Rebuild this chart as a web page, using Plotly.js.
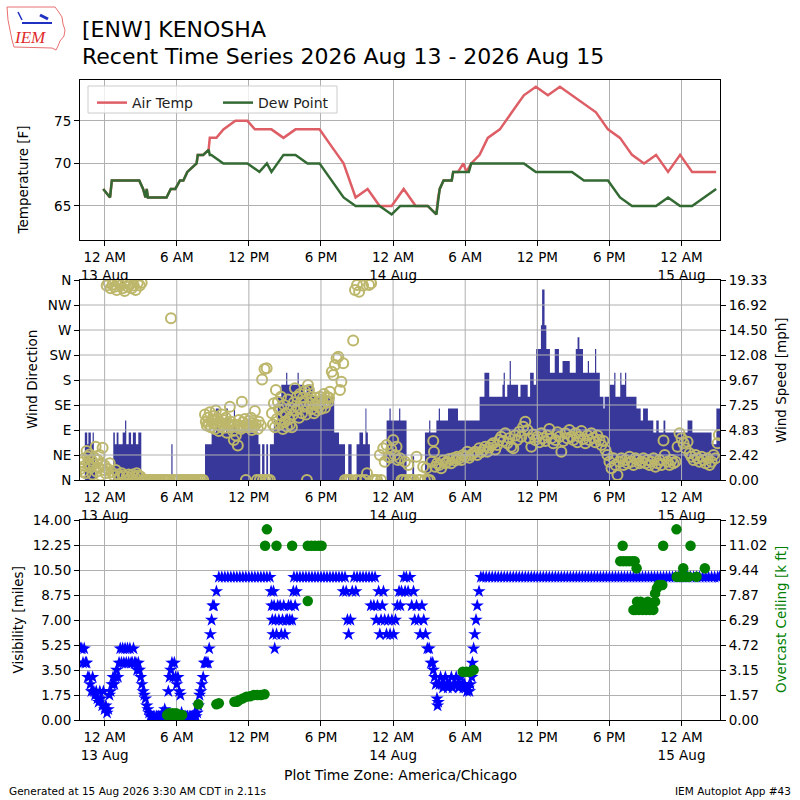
<!DOCTYPE html>
<html><head><meta charset="utf-8">
<script src="https://cdn.plot.ly/plotly-3.0.1.min.js"></script>
<style>html,body{margin:0;padding:0;background:#fff}</style>
</head><body>
<div id="chart" style="width:800px;height:800px"></div>
<script>
// ---------- DATA (time = hours since 2026-08-13 00:00 America/Chicago) ----------
const tickHours = [0, 6, 12, 18, 24, 30, 36, 42, 48];
const tickLabels = ['12 AM<br>13 Aug', '6 AM', '12 PM', '6 PM', '12 AM<br>14 Aug', '6 AM', '12 PM', '6 PM', '12 AM<br>15 Aug'];
const timeRangeHours = [-2.05, 51.2];

const tempTicks = [65, 70, 75];
const tempRange = [61, 79.8];

const airTempObs = [
[-0.12,67],[0.45,66],[0.6,68],[0.88,68],[1.88,68],[2.88,68],[3.2,67],[3.4,66],[3.5,67],[3.6,66],[3.88,66],[4.88,66],[5.15,66],[5.5,67],[5.88,67],[6.27,68],[6.55,68],[6.88,69],[7.65,70],[7.75,71],[7.88,71],[8.2,71],[8.65,71.6],[8.75,73],[9.3,73],[9.88,74],[10.88,75],[11.88,75],[12.5,74],[12.88,74],[13.88,74],[14.88,73],[15.88,74],[16.88,74],[17.88,74],[18.88,72],[19.88,70],[20.88,66],[21.88,67],[22.88,65],[23.88,65],[24.88,67],[25.88,65],[26.88,65],[27.6,64],[27.75,66],[27.88,67],[28.2,68],[28.88,68],[29.0,69],[29.4,69],[29.85,70],[30.1,69],[30.5,70],[31.2,71],[31.88,73],[32.88,74],[33.88,76],[34.88,78],[35.88,79],[36.88,78],[37.88,79],[38.88,78],[39.88,77],[40.88,76],[41.88,74],[42.88,73],[43.88,71],[44.88,70],[45.88,71],[46.88,69],[47.88,71],[48.88,69],[49.88,69],[50.88,69]
];
const dewPointObs = [
[-0.12,67],[0.45,66],[0.6,68],[0.88,68],[1.88,68],[2.88,68],[3.2,67],[3.4,66],[3.5,67],[3.6,66],[3.88,66],[4.88,66],[5.15,66],[5.5,67],[5.88,67],[6.27,68],[6.55,68],[6.88,69],[7.65,70],[7.75,71],[7.88,71],[8.2,71],[8.65,71.6],[8.75,71],[8.88,71],[9.88,70],[10.88,70],[11.88,70],[12.88,69],[13.5,70],[13.88,69],[14.88,71],[15.88,71],[16.88,70],[17.88,70],[18.88,68],[19.88,66],[20.88,65],[21.88,65],[22.88,65],[23.88,64],[24.6,65],[24.88,65],[25.88,65],[26.88,65],[27.6,64],[27.75,66],[27.88,67],[28.2,68],[28.88,68],[29.0,69],[29.88,69],[30.3,69],[30.5,70],[30.88,70],[31.88,70],[32.88,70],[33.88,70],[34.88,70],[35.88,69],[36.88,69],[37.88,69],[38.88,69],[39.88,68],[40.88,68],[41.88,68],[42.88,66],[43.88,65],[44.88,65],[45.88,65],[46.88,66],[47.88,65],[48.88,65],[49.88,66],[50.88,67]
];

const dirTickVals = [0, 45, 90, 135, 180, 225, 270, 315, 360];
const dirTickLabels = ['N', 'NE', 'E', 'SE', 'S', 'SW', 'W', 'NW', 'N'];
const speedMax = 19.33;
const speedTickLabels = ['0.00', '2.42', '4.83', '7.25', '9.67', '12.08', '14.50', '16.92', '19.33'];

// wind speed [mph]: value holds from this time until the next one
const windSpeedObs = [
[-2.0,0],[-1.65,4.6],[-1.45,3.45],[-1.35,4.6],[-1.15,3.45],[-1.0,4.6],[-0.9,2.3],[-0.8,0],[0.72,4.6],[0.85,3.45],[1.0,4.6],[1.15,3.45],[1.5,4.6],[1.7,5.75],[1.8,3.45],[2.0,4.6],[2.2,3.45],[2.35,4.6],[2.6,3.45],[2.8,4.6],[3.05,0],[5.55,3.45],[5.65,0],[8.35,3.45],[8.9,4.6],[9.25,6.9],[9.5,4.6],[10.1,6.9],[10.25,4.6],[10.75,6.9],[10.85,4.6],[12.8,3.45],[12.95,0],[13.1,3.45],[13.3,0],[13.45,3.45],[13.6,0],[13.75,3.45],[14.08,5.75],[14.4,8.05],[14.7,9.2],[15.1,10.36],[15.2,9.2],[16.05,10.36],[16.15,9.2],[16.6,8.05],[16.8,9.2],[17.3,8.05],[17.6,6.9],[17.75,8.05],[18.4,6.9],[18.6,8.05],[19.1,4.6],[19.5,3.45],[20.0,0],[20.27,3.45],[20.55,0],[20.96,3.45],[21.2,4.6],[21.5,3.45],[21.7,6.9],[21.78,4.6],[21.9,3.45],[22.07,0],[23.46,5.75],[23.7,6.9],[23.8,5.75],[24.5,6.9],[24.6,5.75],[25.12,0],[25.6,2.3],[25.75,0],[26.65,4.6],[27.0,5.75],[27.1,4.6],[27.6,5.75],[27.8,6.9],[27.9,5.75],[28.57,6.9],[29.4,5.75],[31.2,8.05],[31.6,10.36],[32.0,8.05],[33.1,9.2],[33.2,10.36],[33.3,8.05],[33.5,9.2],[33.7,11.5],[33.8,9.2],[34.4,8.05],[34.6,9.2],[35.2,8.05],[35.4,10.36],[35.7,9.2],[35.9,12.66],[36.3,14.96],[36.4,18.4],[36.6,14.96],[36.75,12.66],[37.05,10.36],[37.45,12.66],[37.8,10.36],[38.1,11.5],[38.7,10.36],[39.2,12.66],[39.35,13.8],[39.5,12.66],[39.8,10.36],[40.2,11.5],[40.3,10.36],[40.8,12.66],[40.9,10.36],[41.2,8.05],[41.5,6.9],[41.6,8.05],[42.0,9.2],[42.4,10.36],[42.5,8.05],[42.9,10.36],[43.0,9.2],[43.3,10.36],[43.4,8.05],[44.25,6.9],[44.6,5.75],[44.8,6.9],[45.2,5.75],[45.65,4.6],[45.9,5.75],[46.1,4.6],[46.5,5.75],[46.65,4.6],[48.5,5.75],[48.9,4.6],[50.5,3.45],[50.9,6.9],[51.2,6.9]
];

// wind direction [deg]
const windDirObs = [
[-2.0,20],[-1.92,32],[-1.83,15],[-1.75,38],[-1.67,25],[-1.58,12],[-1.5,52],[-1.42,42],[-1.33,30],[-1.25,46],[-1.17,22],[-1.08,35],[-1.0,10],[-0.92,28],[-0.83,40],[-0.75,60],[-0.67,15],[-0.58,36],[-0.5,22],[-0.42,45],[-0.33,8],[-0.25,30],[-0.17,58],[-0.08,18],[0.0,26],[0.08,12],[0.17,350],[0.25,20],[0.33,355],[0.42,30],[0.5,345],[0.58,14],[0.67,352],[0.75,8],[0.83,348],[0.92,18],[1.0,342],[1.08,10],[1.17,356],[1.25,6],[1.33,350],[1.42,12],[1.5,345],[1.58,8],[1.67,340],[1.75,354],[1.83,6],[1.92,348],[2.0,10],[2.08,352],[2.17,5],[2.25,345],[2.33,10],[2.42,350],[2.5,6],[2.58,342],[2.67,12],[2.75,355],[2.83,8],[2.92,350],[3.0,6],[3.08,355],
[3.2,0],[3.37,0],[3.53,0],[3.7,0],[3.87,0],[4.03,0],[4.2,0],[4.37,0],[4.53,0],[4.7,0],[4.87,0],[5.03,0],[5.2,0],[5.37,0],[5.52,291],[5.7,0],[5.87,0],[6.03,0],[6.2,0],[6.37,0],[6.53,0],[6.7,0],[6.87,0],[7.03,0],[7.2,0],[7.37,0],[7.53,0],[7.7,0],[7.87,0],[8.03,0],[8.2,0],
[8.35,118],[8.42,105],[8.5,98],[8.58,112],[8.67,100],[8.75,122],[8.83,95],[8.92,108],[9.0,102],[9.08,115],[9.17,92],[9.25,125],[9.33,100],[9.42,110],[9.5,88],[9.58,104],[9.67,96],[9.75,118],[9.83,100],[9.92,108],[10.0,94],[10.08,112],[10.17,85],[10.25,102],[10.33,98],[10.42,132],[10.5,105],[10.58,95],[10.67,88],[10.75,72],[10.83,100],[10.92,80],[11.0,96],[11.08,62],[11.17,108],[11.25,98],[11.33,92],[11.42,141],[11.5,104],[11.58,96],[11.67,110],[11.75,0],[11.83,100],[11.92,95],[12.0,106],[12.08,98],[12.17,112],[12.25,90],[12.33,102],[12.42,96],[12.5,124],[12.58,100],[12.67,0],[12.75,92],[12.83,105],[12.92,0],[13.0,98],[13.1,181],[13.17,0],[13.3,200],[13.38,0],[13.48,201],[13.58,0],[13.75,0],
[13.92,120],[14.0,100],[14.08,138],[14.17,95],[14.25,162],[14.33,110],[14.42,141],[14.5,128],[14.58,100],[14.67,150],[14.75,115],[14.83,92],[14.92,135],[15.0,105],[15.08,120],[15.17,96],[15.25,145],[15.33,110],[15.42,100],[15.5,130],[15.58,95],[15.67,118],[15.75,140],[15.83,165],[15.92,125],[16.0,150],[16.08,130],[16.17,112],[16.25,155],[16.33,140],[16.42,120],[16.5,148],[16.58,132],[16.67,160],[16.75,118],[16.83,0],[16.92,171],[17.0,162],[17.08,138],[17.17,150],[17.25,128],[17.33,142],[17.42,120],[17.5,135],[17.58,148],[17.67,125],[17.75,140],[17.83,132],[17.92,150],[18.0,128],[18.08,145],[18.17,138],[18.25,155],[18.33,130],[18.42,142],[18.5,150],[18.58,140],[18.67,148],[18.74,159],[18.9,195],[19.02,189],[19.16,207],[19.3,219],[19.44,222],[19.58,162],[19.7,177],[19.85,210],[20.0,0],[20.17,0],[20.33,0],[20.5,0],[20.68,251],[20.83,342],[20.92,0],[21.0,351],[21.17,339],[21.33,0],[21.5,350],[21.67,0],[21.83,12],[22.0,351],[22.17,354],[22.33,0],[22.5,0],[22.67,0],
[22.9,45],[23.0,0],[23.18,57],[23.3,33],[23.46,63],[23.6,42],[23.74,40],[23.85,55],[24.01,72],[24.15,45],[24.29,60],[24.4,36],[24.57,39],[24.7,0],[24.85,0],[24.98,33],[25.1,0],[25.26,27],[25.4,0],[25.55,0],[25.7,0],[25.95,42],[26.1,0],[26.25,0],[26.5,24],[26.65,0],[26.78,21],[26.9,0],[27.05,0],[27.2,33],[27.34,70],[27.4,51],
[27.5,24],[27.67,30],[27.83,27],[28.0,21],[28.17,35],[28.33,30],[28.5,33],[28.67,38],[28.83,30],[29.0,39],[29.17,35],[29.33,42],[29.5,39],[29.67,36],[29.83,45],[30.0,42],[30.17,51],[30.33,40],[30.5,45],[30.67,48],[30.83,51],[31.0,45],[31.17,57],[31.33,50],[31.5,54],[31.67,60],[31.83,51],[32.0,58],[32.17,63],[32.33,66],[32.5,55],[32.67,63],[32.83,72],
[33.0,78],[33.17,70],[33.33,84],[33.5,66],[33.67,75],[33.83,60],[34.0,57],[34.17,80],[34.33,72],[34.5,87],[34.67,78],[34.83,96],[35.0,105],[35.17,90],[35.33,75],[35.5,60],[35.67,82],[35.83,72],[36.0,78],[36.17,68],[36.33,84],[36.5,75],[36.67,70],[36.83,80],[37.0,92],[37.17,75],[37.33,66],[37.5,72],[37.67,86],[37.83,78],[38.0,51],[38.17,70],[38.33,84],[38.5,75],[38.67,90],[38.83,78],[39.0,72],[39.17,84],[39.33,68],[39.5,78],[39.67,88],[39.83,74],[40.0,66],[40.17,80],[40.33,72],[40.5,84],[40.67,76],[40.83,68],[41.0,80],[41.17,72],[41.33,63],[41.5,70],[41.67,54],
[41.83,45],[42.0,33],[42.17,21],[42.33,39],[42.5,27],[42.67,9],[42.83,33],[43.0,39],[43.17,27],[43.33,36],[43.5,30],[43.67,42],[43.83,33],[44.0,27],[44.17,39],[44.33,36],[44.5,30],[44.67,33],[44.83,39],[45.0,30],[45.17,36],[45.33,27],[45.5,33],[45.67,39],[45.83,24],[46.0,30],[46.17,36],[46.33,27],[46.5,71],[46.6,45],
[46.83,33],[47.0,27],[47.17,36],[47.33,30],[47.5,33],[47.67,60],[47.83,84],[48.0,75],[48.17,66],[48.33,57],[48.5,69],[48.67,48],[48.83,42],[49.0,36],[49.17,45],[49.33,39],[49.5,33],[49.67,42],[49.83,36],[50.0,30],[50.17,39],[50.33,27],[50.5,33],[50.67,45],[50.83,39],[51.0,66],[51.1,81]
];

const visMax = 14;
const visTickLabels = ['0.00', '1.75', '3.50', '5.25', '7.00', '8.75', '10.50', '12.25', '14.00'];
const ceilMax = 12.59;
const ceilTickLabels = ['0.00', '1.57', '3.15', '4.72', '6.29', '7.87', '9.44', '11.02', '12.59'];

// visibility [miles]
const visibilityObs = [
[-2.0,5],[-1.9,5],[-1.8,4],[-1.7,5],[-1.6,4],[-1.5,4],[-1.4,3],[-1.3,3],[-1.2,2.5],[-1.1,2],[-1.0,3],[-0.9,2],[-0.8,1.75],[-0.7,2],[-0.6,1.5],[-0.5,1.25],[-0.4,2],[-0.3,1.5],[-0.2,1],[-0.1,2],[0.0,0.75],[0.1,1],[0.2,0.5],[0.3,0.75],[0.4,1.75],[0.5,2],[0.6,2.5],[0.7,3],[0.8,2.5],[0.9,3],[1.0,3.5],[1.1,3],[1.2,4],[1.3,5],[1.4,4],[1.5,5],[1.6,4],[1.7,5],[1.8,4],[1.9,5],[2.0,4],[2.1,5],[2.2,4],[2.3,4],[2.4,5],[2.5,4],[2.6,4],[2.7,3.5],[2.8,4],[2.9,3.5],[3.0,3],[3.1,2.5],[3.2,2],[3.3,1.75],[3.4,1.5],[3.5,1],[3.6,0.75],[3.7,0.5],[3.8,0.25],[3.9,0.25],[4.0,0.12],[4.1,0.25],[4.2,0.12],[4.3,0.25],[4.4,0.12],[4.5,0.25],[4.6,0.12],[4.7,0.25],[4.8,0.5],[4.9,0.25],[5.0,0.75],[5.1,0.5],[5.2,0.25],[5.3,2],[5.4,3],[5.5,3.5],[5.6,4],[5.7,3],[5.8,4],[5.9,3],[6.0,2.5],[6.1,3],[6.2,2],[6.3,1.75],[6.4,0.5],[6.5,0.25],[6.6,0.12],[6.7,0.25],[6.8,0.12],[6.9,0.25],[7.0,0.12],[7.1,0.25],[7.2,0.12],[7.3,0.25],[7.4,0.25],[7.5,0.5],[7.6,0.25],[7.7,0.5],[7.8,1],[7.9,1.75],[8.0,2],[8.1,2.5],[8.2,3],[8.3,4],[8.4,4],[8.5,4],[8.6,4],[8.7,5],[8.8,6],[8.9,7],[9.0,8],[9.1,8],[9.3,9],[9.5,10],
[9.75,10],[10.0,10],[10.25,10],[10.5,10],[10.75,10],[11.0,10],[11.25,10],[11.5,10],[11.75,10],[12.0,10],[12.25,10],[12.5,10],[12.75,10],[13.0,10],[13.25,10],[13.5,10],[13.75,10],
[13.85,9],[13.9,8],[13.95,7],[14.0,6],[14.05,9],[14.1,8],[14.15,5],[14.2,7],[14.3,6],[14.4,8],[14.5,7],[14.6,8],[14.7,6],[14.8,7],[14.9,8],[15.0,6],[15.1,7],[15.2,7],[15.3,8],[15.4,7],[15.5,8],[15.6,7],[15.7,9],[15.75,10],[15.85,8],[15.95,9],
[16.0,10],[16.25,10],[16.5,10],[16.75,10],[17.0,10],[17.25,10],[17.5,10],[17.75,10],[18.0,10],[18.25,10],[18.5,10],[18.75,10],[19.0,10],[19.25,10],[19.5,10],[19.75,10],
[19.85,9],[20.0,10],[20.1,9],[20.2,7],[20.3,6],[20.45,7],[20.6,9],[20.75,10],[20.9,9],[21.0,10],[21.25,10],[21.5,10],[21.75,10],[22.0,10],[22.15,8],[22.25,10],[22.4,8],[22.5,10],[22.6,7],[22.7,8],[22.8,9],[22.9,6],[23.0,7],[23.1,8],[23.2,9],[23.3,7],[23.45,6],[23.6,7],[23.75,6],[23.9,7],[24.05,6],[24.2,7],[24.35,8],[24.5,9],[24.6,8],[24.7,9],[24.9,10],[25.0,9],[25.1,10],[25.25,9],[25.4,10],[25.55,8],[25.7,9],[25.8,7],[25.95,8],[26.1,7],[26.25,6],[26.4,8],[26.55,7],[26.7,6],[26.85,5],[27.0,5],[27.15,4],[27.3,4],[27.35,3.5],[27.45,3],[27.55,2.5],[27.65,1.5],[27.7,1],[27.75,1.25],[27.85,2.5],[27.95,3],[28.05,2.5],[28.15,2.25],[28.25,2.5],[28.35,3],[28.45,2.5],[28.55,2.25],[28.65,2.5],[28.75,2.5],[28.85,3],[28.95,2.25],[29.05,2.5],[29.15,2.5],[29.25,3],[29.35,2.5],[29.45,2.25],[29.55,2.5],[29.65,3],[29.75,2.5],[29.85,2.25],[29.95,2.5],[30.05,2.25],[30.15,2],[30.25,2.25],[30.35,2],[30.45,2.5],[30.55,3],[30.6,4],[30.7,5],[30.8,6],[30.9,7],[31.0,8],[31.15,9],[31.3,10],
[31.5,10],[31.75,10],[32.0,10],[32.25,10],[32.5,10],[32.75,10],[33.0,10],[33.25,10],[33.5,10],[33.75,10],[34.0,10],[34.25,10],[34.5,10],[34.75,10],[35.0,10],[35.25,10],[35.5,10],[35.75,10],[36.0,10],[36.25,10],[36.5,10],[36.75,10],[37.0,10],[37.25,10],[37.5,10],[37.75,10],[38.0,10],[38.25,10],[38.5,10],[38.75,10],[39.0,10],[39.25,10],[39.5,10],[39.75,10],[40.0,10],[40.25,10],[40.5,10],[40.75,10],[41.0,10],[41.25,10],[41.5,10],[41.75,10],[42.0,10],[42.25,10],[42.5,10],[42.75,10],[43.0,10],[43.25,10],[43.5,10],[43.75,10],[44.0,10],[44.25,10],[44.5,10],[44.75,10],[45.0,10],[45.25,10],[45.5,10],[45.75,10],[46.0,10],[46.25,10],[46.5,10],[46.75,10],[47.0,10],[47.25,10],[47.5,10],[47.75,10],[48.0,10],[48.25,10],[48.5,10],[48.75,10],[49.0,10],[49.25,10],[49.5,10],[49.75,10],[50.0,10],[50.25,10],[50.5,10],[50.75,10],[51.0,10],[51.15,10]
];

// overcast ceiling [k ft]
const ceilingObs = [
[5.2,0.31],[5.35,0.42],[5.5,0.31],[5.65,0.42],[5.8,0.31],[5.95,0.42],[6.1,0.31],[6.25,0.31],[6.45,0.31],[7.8,0.99],[9.3,0.99],[9.5,1.05],[10.8,1.15],[11.0,1.15],[11.2,1.26],[11.5,1.36],[11.8,1.47],[12.1,1.5],[12.4,1.57],[12.7,1.57],[13.0,1.57],[13.3,1.62],[13.35,10.97],[13.5,12.0],[14.3,10.97],[15.6,10.97],[16.9,7.49],[16.9,10.97],[17.2,10.97],[17.5,10.97],[17.8,10.97],[18.05,10.97],[29.8,3.04],[30.1,3.04],[30.4,3.04],[30.7,3.15],
[42.9,10.0],[43.1,10.97],[43.15,10.0],[43.4,10.0],[43.65,10.0],[43.9,10.0],[44.0,6.93],[44.1,10.0],[44.15,6.93],[44.26,9.55],[44.3,7.45],[44.45,6.93],[44.6,7.45],[44.75,6.93],[44.9,7.2],[45.05,6.93],[45.2,7.45],[45.35,6.93],[45.5,7.2],[45.65,6.93],[45.8,7.45],[45.8,7.97],[45.95,8.3],[46.1,8.5],[46.25,8.5],[46.4,8.5],[46.47,10.97],[47.58,12.0],[47.6,9.02],[47.85,9.02],[48.1,9.02],[48.14,9.55],[48.35,9.02],[48.6,9.02],[48.75,10.97],[49.25,9.02],[49.94,9.55]
];

// ---------- RENDER ----------
const T0 = Date.UTC(2026, 7, 13, 0, 0);
const toT = h => T0 + h * 3600000;
const F = 'DejaVu Sans, sans-serif';
const xs = a => a.map(p => toT(p[0]));
const ys = a => a.map(p => p[1]);
const GRID = '#b0b0b0';

const traces = [
  {x: xs(airTempObs), y: ys(airTempObs), name: 'Air Temp', legend: 'legend', mode: 'lines', xaxis: 'x', yaxis: 'y',
   line: {color: '#de5e66', width: 2.5}},
  {x: xs(dewPointObs), y: ys(dewPointObs), name: 'Dew Point', legend: 'legend2', mode: 'lines', xaxis: 'x', yaxis: 'y',
   line: {color: '#336a33', width: 2.5}},
  {x: xs(windSpeedObs), y: ys(windSpeedObs), mode: 'lines', xaxis: 'x2', yaxis: 'y2', showlegend: false,
   line: {shape: 'hv', width: 0, color: '#38389a'}, fill: 'tozeroy', fillcolor: '#38389a', hoverinfo: 'skip'},
  {x: xs(windDirObs), y: ys(windDirObs), mode: 'markers', xaxis: 'x2', yaxis: 'y3', showlegend: false,
   marker: {symbol: 'circle-open', size: 10, color: '#bdb76b', line: {width: 2, color: '#bdb76b'}}},
  {x: xs(visibilityObs), y: ys(visibilityObs), mode: 'markers', xaxis: 'x3', yaxis: 'y4', showlegend: false,
   marker: {symbol: 'star', size: 10, color: '#0000ff', line: {width: 0}}},
  {x: xs(ceilingObs), y: ys(ceilingObs), mode: 'markers', xaxis: 'x3', yaxis: 'y5', showlegend: false,
   marker: {symbol: 'circle', size: 10.5, color: '#008000', line: {width: 0}}}
];

const tickFont = {family: F, size: 13.5, color: '#000'};
const base = {showline: true, linecolor: '#000', linewidth: 1, ticks: 'outside', ticklen: 5, tickwidth: 1,
  tickcolor: '#000', tickfont: tickFont, zeroline: false, gridcolor: GRID, gridwidth: 1};
const xBase = Object.assign({}, base, {type: 'date', domain: [0.1, 0.9], range: timeRangeHours.map(toT),
  tickmode: 'array', tickvals: tickHours.map(toT), ticktext: tickLabels, showgrid: true, mirror: true});
const frac = (max, n) => Array.from({length: n}, (_, i) => i * max / (n - 1));

// grid of the wind panel is drawn above the speed fill, as in the reference
const windGrid = [];
frac(speedMax, 9).slice(1, -1).forEach(v => windGrid.push({type: 'line', layer: 'above', xref: 'x2 domain', yref: 'y2',
  x0: 0, x1: 1, y0: v, y1: v, line: {color: GRID, width: 1}}));
tickHours.forEach(h => windGrid.push({type: 'line', layer: 'above', xref: 'x2', yref: 'y2 domain',
  x0: toT(h), x1: toT(h), y0: 0, y1: 1, line: {color: GRID, width: 1}}));

const legFont = {family: F, size: 14, color: '#222'};
const legCommon = {y: 1 - 87 / 800, xanchor: 'left', yanchor: 'top', orientation: 'h',
  bgcolor: 'rgba(0,0,0,0)', borderwidth: 0, font: legFont};

const layout = {
  width: 800, height: 800, margin: {l: 0, r: 0, t: 0, b: 0},
  paper_bgcolor: '#fff', plot_bgcolor: '#fff', font: {family: F, color: '#000'},
  showlegend: true,
  legend: Object.assign({x: 92 / 800}, legCommon),
  legend2: Object.assign({x: 218 / 800}, legCommon),
  xaxis: Object.assign({}, xBase, {anchor: 'y'}),
  yaxis: Object.assign({}, base, {domain: [0.7, 0.9], anchor: 'x', range: tempRange, tickmode: 'array',
    tickvals: tempTicks, showgrid: true, mirror: true}),
  xaxis2: Object.assign({}, xBase, {anchor: 'y2', showgrid: false}),
  yaxis2: Object.assign({}, base, {domain: [0.4, 0.65], anchor: 'x2', side: 'right', range: [0, speedMax],
    tickmode: 'array', tickvals: frac(speedMax, 9), ticktext: speedTickLabels, showgrid: false}),
  yaxis3: Object.assign({}, base, {overlaying: 'y2', anchor: 'x2', side: 'left', range: [0, 360],
    tickmode: 'array', tickvals: dirTickVals, ticktext: dirTickLabels, showgrid: false}),
  xaxis3: Object.assign({}, xBase, {anchor: 'y4'}),
  yaxis4: Object.assign({}, base, {domain: [0.1, 0.35], anchor: 'x3', side: 'left', range: [0, visMax],
    tickmode: 'array', tickvals: frac(visMax, 9), ticktext: visTickLabels, showgrid: true}),
  yaxis5: Object.assign({}, base, {overlaying: 'y4', anchor: 'x3', side: 'right', range: [0, ceilMax],
    tickmode: 'array', tickvals: frac(ceilMax, 9), ticktext: ceilTickLabels, showgrid: false}),
  annotations: [
    {text: '[ENW] KENOSHA', xref: 'paper', yref: 'paper', x: 0.1, y: 1 - 30 / 800, xanchor: 'left', yanchor: 'middle',
     showarrow: false, font: {family: F, size: 22, color: '#000'}},
    {text: 'Recent Time Series 2026 Aug 13 - 2026 Aug 15', xref: 'paper', yref: 'paper', x: 0.1, y: 1 - 56 / 800,
     xanchor: 'left', yanchor: 'middle', showarrow: false, font: {family: F, size: 22, color: '#000'}},
    {text: 'Temperature [F]', xref: 'paper', yref: 'paper', x: 22.5 / 800, y: 1 - 180 / 800, textangle: -90,
     xanchor: 'center', yanchor: 'middle', showarrow: false, font: {family: F, size: 13.5, color: '#000'}},
    {text: 'Wind Direction', xref: 'paper', yref: 'paper', x: 32 / 800, y: 1 - 380 / 800, textangle: -90,
     xanchor: 'center', yanchor: 'middle', showarrow: false, font: {family: F, size: 13.5, color: '#000'}},
    {text: 'Wind Speed [mph]', xref: 'paper', yref: 'paper', x: 781 / 800, y: 1 - 380 / 800, textangle: -90,
     xanchor: 'center', yanchor: 'middle', showarrow: false, font: {family: F, size: 13.5, color: '#000'}},
    {text: 'Visibility [miles]', xref: 'paper', yref: 'paper', x: 17.5 / 800, y: 1 - 620 / 800, textangle: -90,
     xanchor: 'center', yanchor: 'middle', showarrow: false, font: {family: F, size: 13.5, color: '#000'}},
    {text: 'Overcast Ceiling [k ft]', xref: 'paper', yref: 'paper', x: 781 / 800, y: 1 - 620 / 800, textangle: -90,
     xanchor: 'center', yanchor: 'middle', showarrow: false, font: {family: F, size: 13.5, color: '#008000'}},
    {text: 'Plot Time Zone: America/Chicago', xref: 'paper', yref: 'paper', x: 0.5, y: 1 - 775 / 800,
     xanchor: 'center', yanchor: 'middle', showarrow: false, font: {family: F, size: 14, color: '#000'}},
    {text: 'Generated at 15 Aug 2026 3:30 AM CDT in 2.11s', xref: 'paper', yref: 'paper', x: 7 / 800, y: 1 - 791 / 800,
     xanchor: 'left', yanchor: 'middle', showarrow: false, font: {family: F, size: 10.5, color: '#000'}},
    {text: 'IEM Autoplot App #43', xref: 'paper', yref: 'paper', x: 793 / 800, y: 1 - 791 / 800,
     xanchor: 'right', yanchor: 'middle', showarrow: false, font: {family: F, size: 10.5, color: '#000'}},
    {text: '<i>IEM</i>', xref: 'paper', yref: 'paper', x: 30 / 800, y: 1 - 38 / 800, xanchor: 'center', yanchor: 'middle',
     showarrow: false, font: {family: 'Liberation Serif, serif', size: 17, color: '#e02a2a'}}
  ],
  shapes: windGrid.concat([
    // legend frame
    {type: 'rect', xref: 'paper', yref: 'paper', layer: 'above', x0: 88 / 800, x1: 337 / 800,
     y0: 1 - 113 / 800, y1: 1 - 86 / 800, line: {color: '#cccccc', width: 1}, fillcolor: 'rgba(255,255,255,0.8)'},
    {type: 'path', xref: 'paper', yref: 'paper', line: {color: '#e87070', width: 1},
     path: 'M ' + [[7,7],[55,7],[58,11],[62,17],[63,24],[65,30],[64,36],[60,41],[58,46],[56,50],[52,48],[14,47],[12,40],[10,30],[8,20]]
       .map(p => (p[0] / 800) + ',' + (1 - p[1] / 800)).join(' L ') + ' Z'},
    {type: 'line', xref: 'paper', yref: 'paper', x0: 22 / 800, x1: 52 / 800, y0: 1 - 23 / 800, y1: 1 - 23 / 800,
     line: {color: '#2030c0', width: 2}},
    {type: 'line', xref: 'paper', yref: 'paper', x0: 40 / 800, x1: 48 / 800, y0: 1 - 15 / 800, y1: 1 - 19 / 800,
     line: {color: '#2030c0', width: 3}},
    {type: 'line', xref: 'paper', yref: 'paper', x0: 18 / 800, x1: 22 / 800, y0: 1 - 12 / 800, y1: 1 - 20 / 800,
     line: {color: '#2030c0', width: 1.5}}
  ])
};

Plotly.newPlot('chart', traces, layout, {staticPlot: true, displayModeBar: false});
</script></body></html>
